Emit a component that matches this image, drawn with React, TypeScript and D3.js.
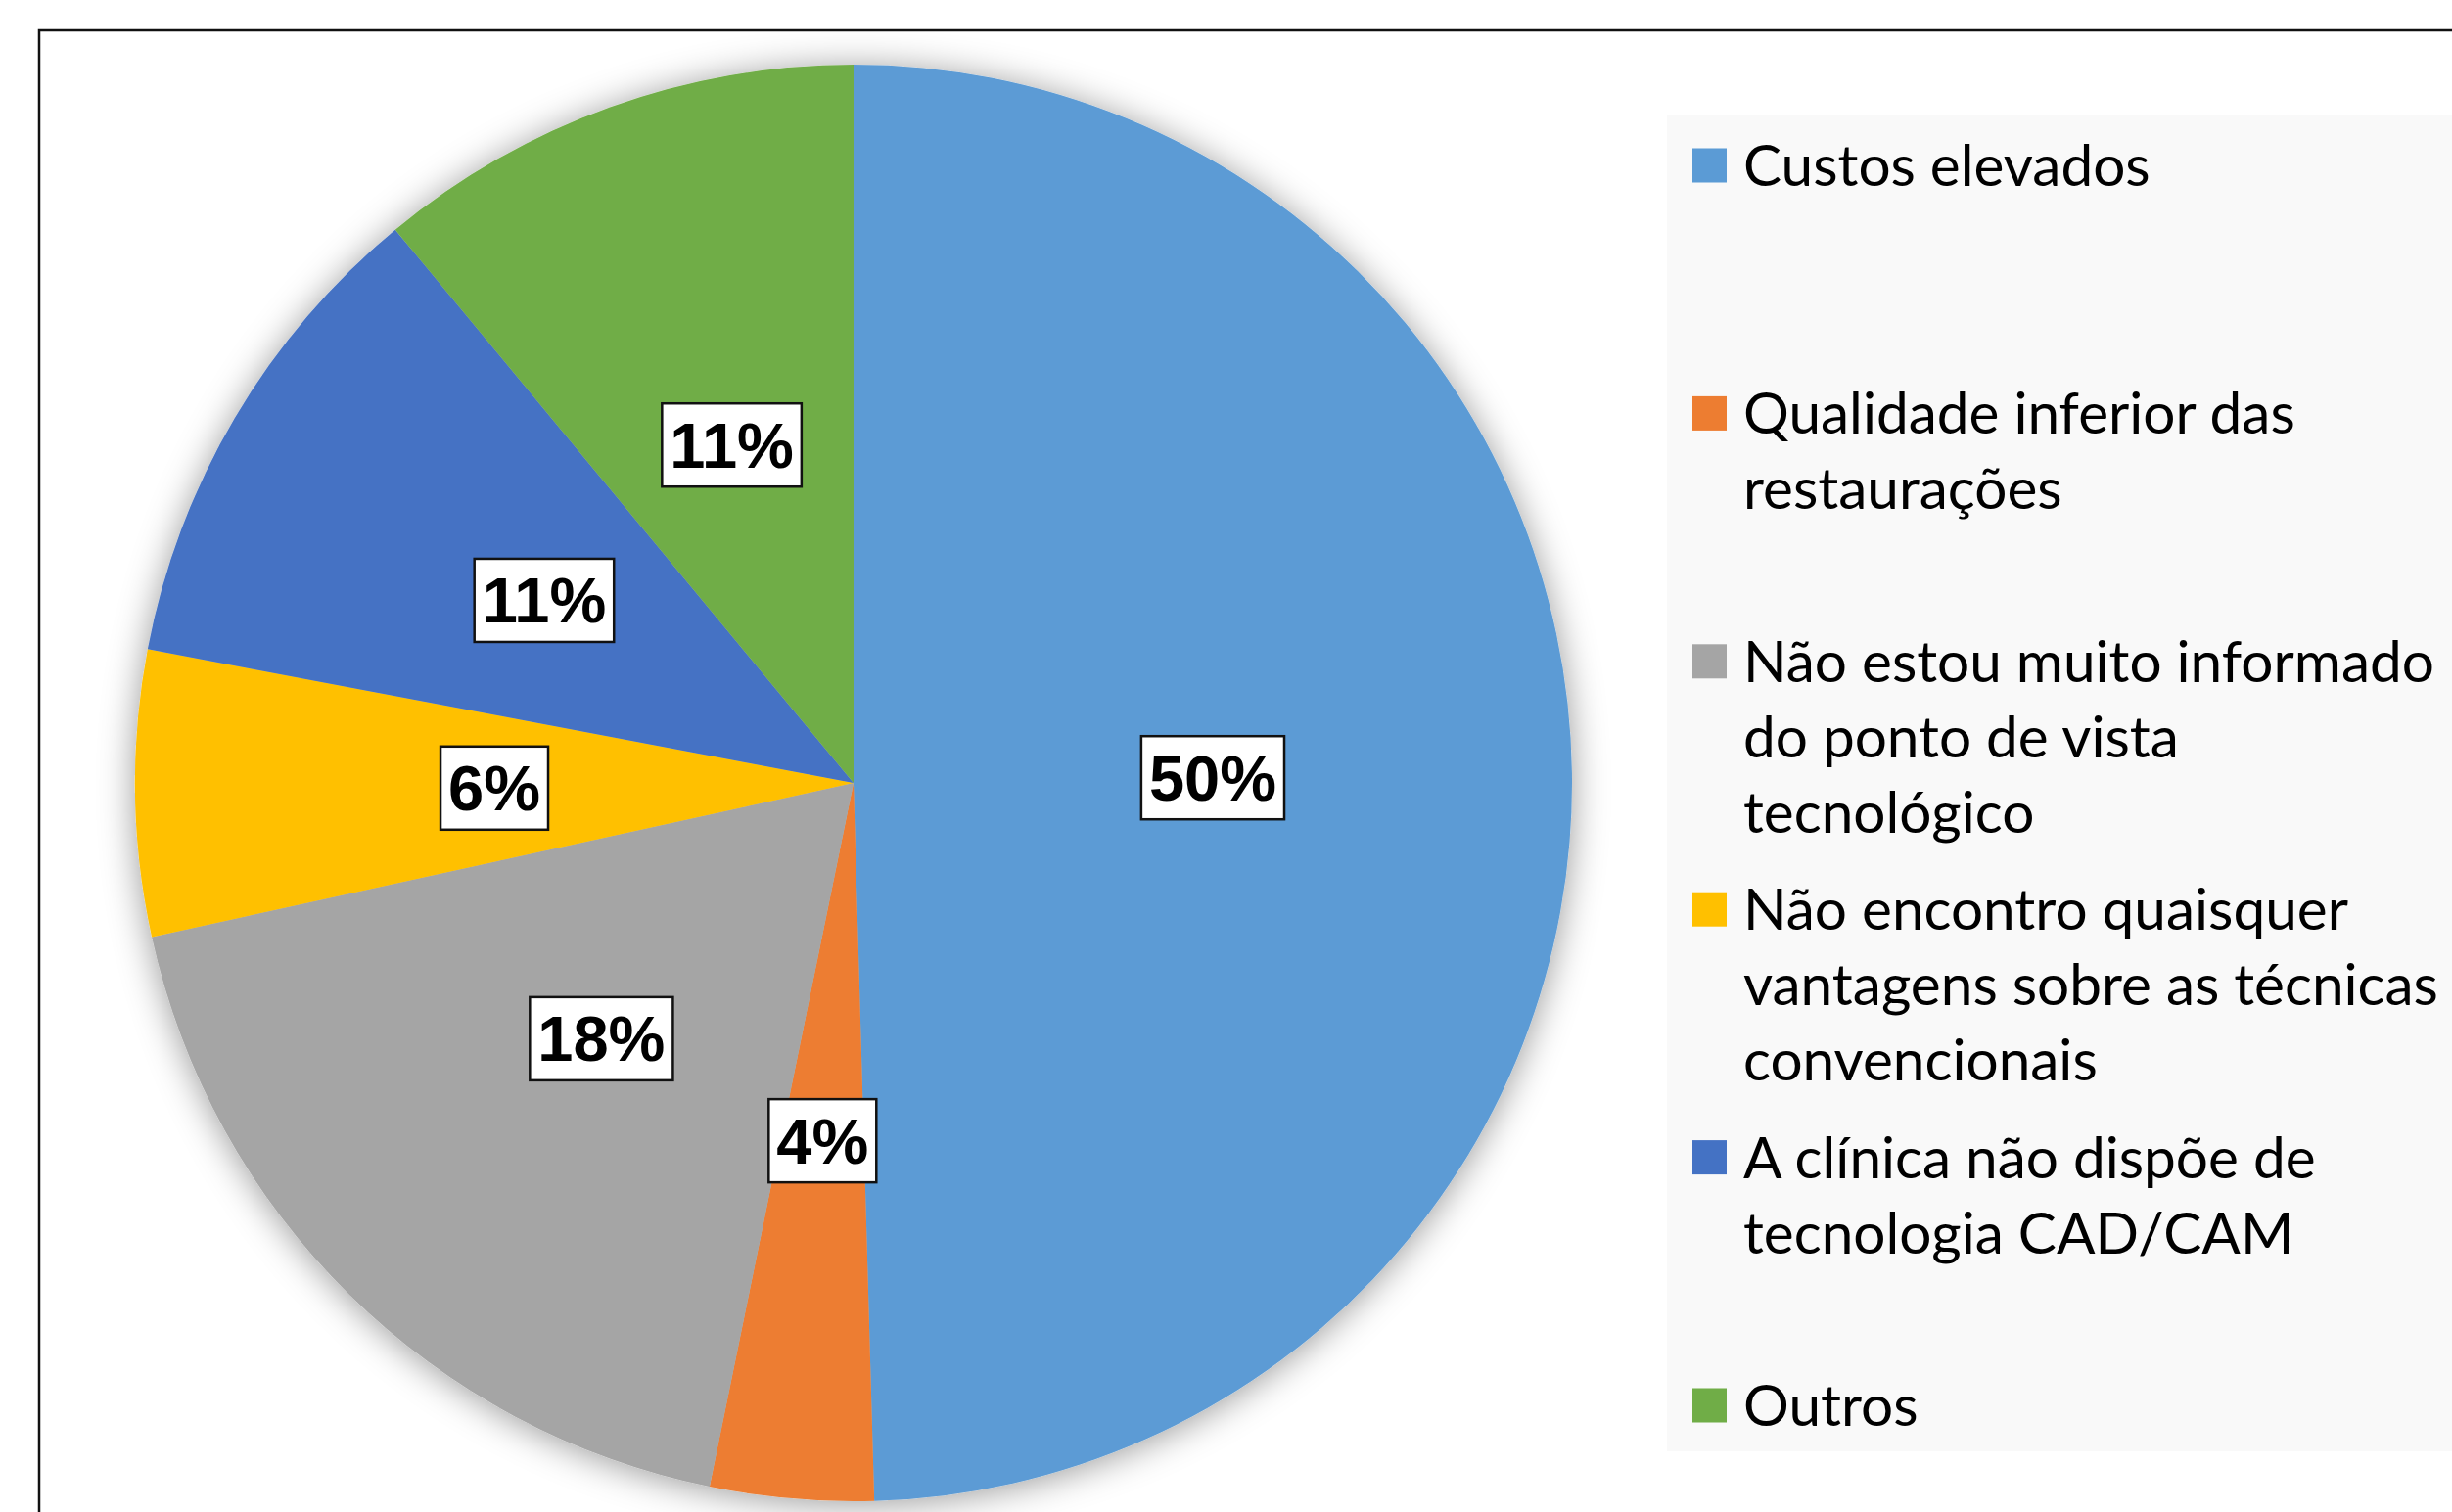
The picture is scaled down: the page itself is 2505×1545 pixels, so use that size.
import React, { useEffect, useRef } from "react";
import * as d3 from "d3";

const categories: string[][] = [
  ["Custos elevados"],
  ["Qualidade inferior das", "restaurações"],
  ["Não estou muito informado", "do ponto de vista", "tecnológico"],
  ["Não encontro quaisquer", "vantagens sobre as técnicas", "convencionais"],
  ["A clínica não dispõe de", "tecnologia CAD/CAM"],
  ["Outros"],
];
const values: number[] = [54, 4, 20, 7, 12, 12];
const colors: string[] = ["#5B9BD5", "#ED7D31", "#A5A5A5", "#FFC000", "#4472C4", "#70AD47"];

const W = 2505;
const H = 1545;

export default function App() {
  const ref = useRef<SVGSVGElement | null>(null);

  useEffect(() => {
    const svg = d3.select(ref.current);
    svg.selectAll("*").remove();

    const defs = svg.append("defs");
    const f = defs
      .append("filter")
      .attr("id", "shadow")
      .attr("x", "-20%")
      .attr("y", "-20%")
      .attr("width", "140%")
      .attr("height", "140%");
    f.append("feDropShadow")
      .attr("dx", 0)
      .attr("dy", 3)
      .attr("stdDeviation", 18)
      .attr("flood-color", "#000")
      .attr("flood-opacity", 0.4);

    // frame
    svg
      .append("rect")
      .attr("x", 40)
      .attr("y", 31)
      .attr("width", W)
      .attr("height", H)
      .attr("fill", "#fff")
      .attr("stroke", "#111")
      .attr("stroke-width", 2.5);

    // legend background
    svg
      .append("rect")
      .attr("x", 1703)
      .attr("y", 117)
      .attr("width", W - 1703)
      .attr("height", 1483 - 117)
      .attr("fill", "#F9F9F9");

    const cx = 872;
    const cy = 800;
    const r = 734;

    const total = d3.sum(values);
    const pie = d3
      .pie<number>()
      .sort(null)
      .value((d) => d);
    const arcs = pie(values);
    const arc = d3.arc<d3.PieArcDatum<number>>().innerRadius(0).outerRadius(r);

    const g = svg.append("g").attr("transform", `translate(${cx},${cy})`);
    const pieG = g.append("g").attr("filter", "url(#shadow)");
    pieG
      .selectAll("path")
      .data(arcs)
      .enter()
      .append("path")
      .attr("d", (d) => arc(d) as string)
      .attr("fill", (d, i) => colors[i]);

    // data labels
    const fmt = (v: number) => `${Math.round((v / total) * 100)}%`;
    arcs.forEach((d) => {
      const [lx, ly] = arc.centroid(d);
      const lg = g.append("g").attr("transform", `translate(${lx},${ly})`);
      const rect = lg.append("rect");
      const t = lg
        .append("text")
        .attr("text-anchor", "middle")
        .attr("x", 0)
        .attr("y", 23)
        .attr("font-family", "'Liberation Sans', Arial, sans-serif")
        .attr("font-weight", "bold")
        .attr("font-size", 65)
        .attr("fill", "#000")
        .text(fmt(d.value));
      const tw = (t.node() as SVGTextElement).getComputedTextLength();
      const bw = tw + 16;
      const bh = 85;
      rect
        .attr("x", -bw / 2)
        .attr("y", -bh / 2)
        .attr("width", bw)
        .attr("height", bh)
        .attr("fill", "#fff")
        .attr("stroke", "#111")
        .attr("stroke-width", 2.5);
    });

    // legend
    const legendX = 1729;
    const textX = 1781;
    const firstCenter = 169;
    const step = 253.4;
    const lineH = 77;
    categories.forEach((lines, i) => {
      const yc = firstCenter + i * step;
      svg
        .append("rect")
        .attr("x", legendX)
        .attr("y", yc - 17.5)
        .attr("width", 35)
        .attr("height", 35)
        .attr("fill", colors[i]);
      const t = svg
        .append("text")
        .attr("font-family", "Lato, 'Open Sans', sans-serif")
        .attr("font-size", 58.5)
        .attr("fill", "#000");
      lines.forEach((ln, j) => {
        t.append("tspan")
          .attr("x", textX)
          .attr("y", yc + 21 + j * lineH)
          .text(ln);
      });
    });
  }, []);

  return (
    <svg
      ref={ref}
      width={W}
      height={H}
      style={{ position: "absolute", left: 0, top: 0, background: "#fff" }}
    />
  );
}
